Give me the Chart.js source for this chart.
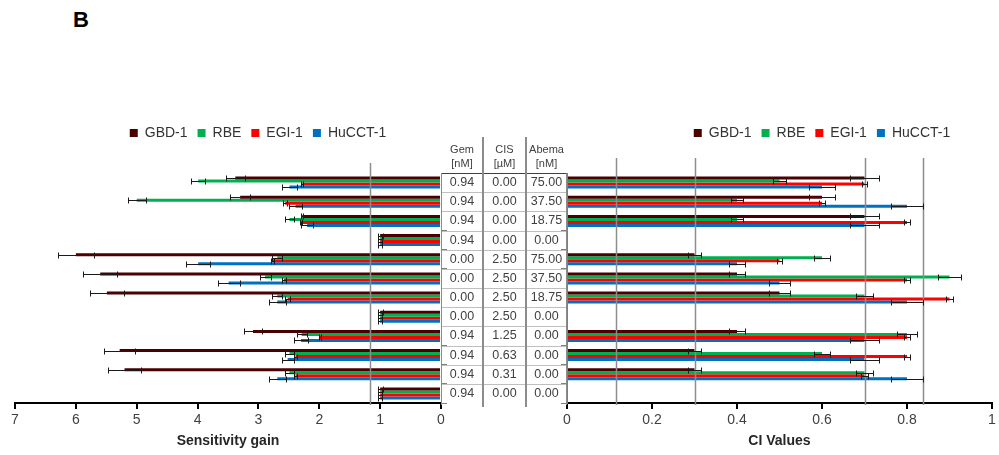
<!DOCTYPE html>
<html>
<head>
<meta charset="utf-8">
<script src="https://cdn.jsdelivr.net/npm/chart.js@4.4.1/dist/chart.umd.min.js"></script>
<style>
  html, body { margin: 0; padding: 0; background: #fff; }
  body { width: 999px; height: 455px; position: relative; overflow: hidden; font-family: 'Liberation Sans', Arial, sans-serif; }
  #panel { position: absolute; left: 73px; top: 7px; font-size: 22px; font-weight: bold; color: #000; }
  canvas { position: absolute; top: 0; }
  #leftChart { left: 0; }
  #rightChart { left: 520px; }
  .sep { position: absolute; top: 137px; width: 2px; height: 270px; background: #8c8c8c; }
  .hline { position: absolute; left: 441px; width: 126px; height: 1px; background: #bfbfbf; }
  .vline { position: absolute; top: 173px; width: 1px; height: 232px; background: #8c8c8c; }
  .head { position: absolute; top: 142px; font-size: 11px; line-height: 14px; color: #404040; text-align: center; }
  .cell { position: absolute; font-size: 12.5px; color: #404040; text-align: center; }
</style>
</head>
<body>
<div id="panel">B</div>
<canvas id="leftChart" width="501" height="455"></canvas>
<canvas id="rightChart" width="479" height="455"></canvas>
<div id="table"></div>
<script>
// Conditions du tableau central (une ligne par groupe de barres)
const gem   = ['0.94', '0.94', '0.94', '0.94', '0.00', '0.00', '0.00', '0.00', '0.94', '0.94', '0.94', '0.94'];
const cis   = ['0.00', '0.00', '0.00', '0.00', '2.50', '2.50', '2.50', '2.50', '1.25', '0.63', '0.31', '0.00'];
const abema = ['75.00', '37.50', '18.75', '0.00', '75.00', '37.50', '18.75', '0.00', '0.00', '0.00', '0.00', '0.00'];

const seriesNames  = ['GBD-1', 'RBE', 'EGI-1', 'HuCCT-1'];
const seriesColors = ['#4a0000', '#00b050', '#ff0000', '#0070c0'];

// Sensitivity gain
const gainGBD1   = [3.38, 3.30, 2.28, 1.00, 6.00, 5.60, 5.49, 1.00, 3.09, 5.28, 5.20, 1.00];
const gainRBE    = [3.99, 5.00, 2.49, 1.00, 2.69, 2.89, 2.69, 1.00, 2.29, 2.49, 2.49, 1.00];
const gainEGI1   = [2.28, 2.56, 2.30, 1.00, 2.77, 2.58, 2.52, 1.00, 1.99, 2.39, 2.39, 1.00];
const gainHuCCT1 = [2.49, 2.39, 2.20, 1.00, 3.99, 3.49, 2.69, 1.00, 2.30, 2.52, 2.69, 1.00];

const gainErrGBD1   = [0.16, 0.16, 0.02, 0.04, 0.30, 0.28, 0.28, 0.04, 0.15, 0.26, 0.27, 0.04];
const gainErrRBE    = [0.12, 0.15, 0.07, 0.03, 0.08, 0.09, 0.08, 0.03, 0.08, 0.07, 0.07, 0.03];
const gainErrEGI1   = [0.02, 0.03, 0.02, 0.03, 0.02, 0.03, 0.04, 0.03, 0.02, 0.03, 0.03, 0.03];
const gainErrHuCCT1 = [0.12, 0.11, 0.10, 0.03, 0.20, 0.18, 0.14, 0.03, 0.12, 0.10, 0.14, 0.03];

// CI values (pas de valeur pour les traitements seuls)
const ciGBD1   = [0.70, 0.60, 0.70, null, 0.30, 0.40, 0.50, null, 0.40, 0.30, 0.30, null];
const ciRBE    = [0.50, 0.40, 0.40, null, 0.60, 0.90, 0.70, null, 0.80, 0.60, 0.70, null];
const ciEGI1   = [0.70, 0.60, 0.80, null, 0.50, 0.80, 0.90, null, 0.80, 0.80, 0.70, null];
const ciHuCCT1 = [0.60, 0.80, 0.70, null, 0.40, 0.50, 0.80, null, 0.70, 0.70, 0.80, null];

const ciErrGBD1   = [0.035, 0.030, 0.035, 0, 0.016, 0.019, 0.025, 0, 0.019, 0.016, 0.016, 0];
const ciErrRBE    = [0.016, 0.013, 0.013, 0, 0.018, 0.027, 0.020, 0, 0.023, 0.018, 0.020, 0];
const ciErrEGI1   = [0.007, 0.006, 0.008, 0, 0.005, 0.008, 0.009, 0, 0.008, 0.008, 0.008, 0];
const ciErrHuCCT1 = [0.030, 0.038, 0.035, 0, 0.018, 0.025, 0.038, 0, 0.035, 0.035, 0.038, 0];

// Lignes verticales grises
const gainRefLines = [1.17];
const ciRefLines = [0.115, 0.30, 0.70, 0.838];

const rowLabels = gem.map((g, i) => g + ' / ' + cis[i] + ' / ' + abema[i]);

Chart.defaults.font.family = "'Liberation Sans', Arial, sans-serif";
Chart.defaults.color = '#404040';

function makeSets(values, errors) {
    return seriesNames.map((name, k) => ({
        label: name,
        data: values[k],
        errors: errors[k],
        backgroundColor: seriesColors[k],
        borderWidth: 0,
        categoryPercentage: 0.63,
        barPercentage: 1
    }));
}

// Légende : hauteur fixe + centrage horizontal
const legendSpot = {
    id: 'legendSpot',
    beforeInit(chart) {
        const legend = chart.legend;
        const fit = legend.fit;
        legend.fit = function() {
            fit.call(this);
            this.height = chart.options.plugins.legendSpot.height;
        };
    },
    afterUpdate(chart, args, opts) {
        const legend = chart.legend;
        const shift = opts.centerX - (legend.left + legend.right) / 2;
        legend.left += shift;
        legend.right += shift;
    }
};

const refLines = {
    id: 'refLines',
    afterDatasetsDraw(chart, args, opts) {
        const {ctx, chartArea} = chart;
        const xs = chart.scales.x;
        ctx.save();
        ctx.strokeStyle = '#8c8c8c';
        ctx.lineWidth = 1.5;
        opts.values.forEach(v => {
            const x = Math.round(xs.getPixelForValue(v)) + 0.5;
            ctx.beginPath();
            ctx.moveTo(x, chartArea.top - opts.above);
            ctx.lineTo(x, chartArea.bottom + 2);
            ctx.stroke();
        });
        ctx.restore();
    }
};

const errorBars = {
    id: 'errorBars',
    afterDatasetsDraw(chart) {
        const ctx = chart.ctx;
        const xs = chart.scales.x;
        ctx.save();
        ctx.strokeStyle = '#1a1a1a';
        ctx.lineWidth = 1;
        chart.data.datasets.forEach((ds, i) => {
            const meta = chart.getDatasetMeta(i);
            meta.data.forEach((bar, j) => {
                const v = ds.data[j];
                const e = ds.errors[j];
                if (v === null || !e) return;
                const a = Math.round(xs.getPixelForValue(v - e)) + 0.5;
                const b = Math.round(xs.getPixelForValue(v + e)) + 0.5;
                const y = Math.round(bar.y) + 0.5;
                ctx.beginPath();
                ctx.moveTo(a, y); ctx.lineTo(b, y);
                ctx.moveTo(a, y - 3); ctx.lineTo(a, y + 3);
                ctx.moveTo(b, y - 3); ctx.lineTo(b, y + 3);
                ctx.stroke();
            });
        });
        ctx.restore();
    }
};

function buildOptions(side) {
    const left = side === 'left';
    return {
        indexAxis: 'y',
        responsive: false,
        animation: false,
        layout: { padding: left ? { top: 116, left: 15, right: 0, bottom: 0 } : { top: 116, left: 0, right: 7, bottom: 0 } },
        plugins: {
            legend: {
                position: 'top',
                labels: { boxWidth: 8, boxHeight: 8, padding: 10, color: '#333', font: { size: 14 } }
            },
            legendSpot: { height: 57, centerX: left ? 258 : 302 },
            refLines: { values: left ? gainRefLines : ciRefLines, above: left ? 10 : 15 },
            tooltip: { enabled: false }
        },
        scales: {
            x: {
                reverse: left,
                min: 0,
                max: left ? 7 : 1,
                ticks: {
                    stepSize: left ? 1 : 0.2,
                    color: '#404040',
                    font: { size: 14 },
                    padding: 3,
                    callback: v => String(Math.round(v * 10) / 10)
                },
                grid: { drawOnChartArea: false, tickLength: 6, color: '#000', lineWidth: 2 },
                border: { color: '#000', width: 2 },
                title: {
                    display: true,
                    text: left ? 'Sensitivity gain' : 'CI Values',
                    color: '#262626',
                    font: { size: 14, weight: 'bold' },
                    padding: { top: 0, bottom: 5 }
                },
                afterFit(s) { s.height = 52; }
            },
            y: {
                position: left ? 'right' : 'left',
                ticks: { display: false },
                grid: { drawOnChartArea: false, tickLength: 6, color: '#7f7f7f', offset: true },
                border: { color: '#7f7f7f', width: 1 },
                afterFit(s) { s.width = left ? 60 : 47; }
            }
        }
    };
}

new Chart(document.getElementById('leftChart'), {
    type: 'bar',
    data: {
        labels: rowLabels,
        datasets: makeSets([gainGBD1, gainRBE, gainEGI1, gainHuCCT1],
                           [gainErrGBD1, gainErrRBE, gainErrEGI1, gainErrHuCCT1])
    },
    options: buildOptions('left'),
    plugins: [legendSpot, refLines, errorBars]
});

new Chart(document.getElementById('rightChart'), {
    type: 'bar',
    data: {
        labels: rowLabels,
        datasets: makeSets([ciGBD1, ciRBE, ciEGI1, ciHuCCT1],
                           [ciErrGBD1, ciErrRBE, ciErrEGI1, ciErrHuCCT1])
    },
    options: buildOptions('right'),
    plugins: [legendSpot, refLines, errorBars]
});

// Tableau central
const table = document.getElementById('table');
const colX = [441, 483, 526, 567];
const headers = ['Gem<br>[nM]', 'CIS<br>[µM]', 'Abema<br>[nM]'];
const rowTop = 173, rowH = 230 / 12;
let html = '';
headers.forEach((h, c) => {
    html += '<div class="head" style="left:' + colX[c] + 'px;width:' + (colX[c + 1] - colX[c]) + 'px">' + h + '</div>';
});
[gem, cis, abema].forEach((col, c) => {
    col.forEach((v, r) => {
        html += '<div class="cell" style="left:' + colX[c] + 'px;width:' + (colX[c + 1] - colX[c]) +
            'px;top:' + (rowTop + r * rowH) + 'px;height:' + rowH + 'px;line-height:' + rowH + 'px">' + v + '</div>';
    });
});
for (let r = 0; r < 12; r++) {
    const col = r === 0 ? '#404040' : '#bfbfbf';
    html += '<div class="hline" style="top:' + Math.round(rowTop + r * rowH) + 'px;background:' + col + '"></div>';
}
html += '<div class="vline" style="left:441px"></div><div class="vline" style="left:566px"></div>';
html += '<div class="sep" style="left:482px"></div><div class="sep" style="left:525px"></div>';
table.innerHTML = html;
</script>
</body>
</html>
